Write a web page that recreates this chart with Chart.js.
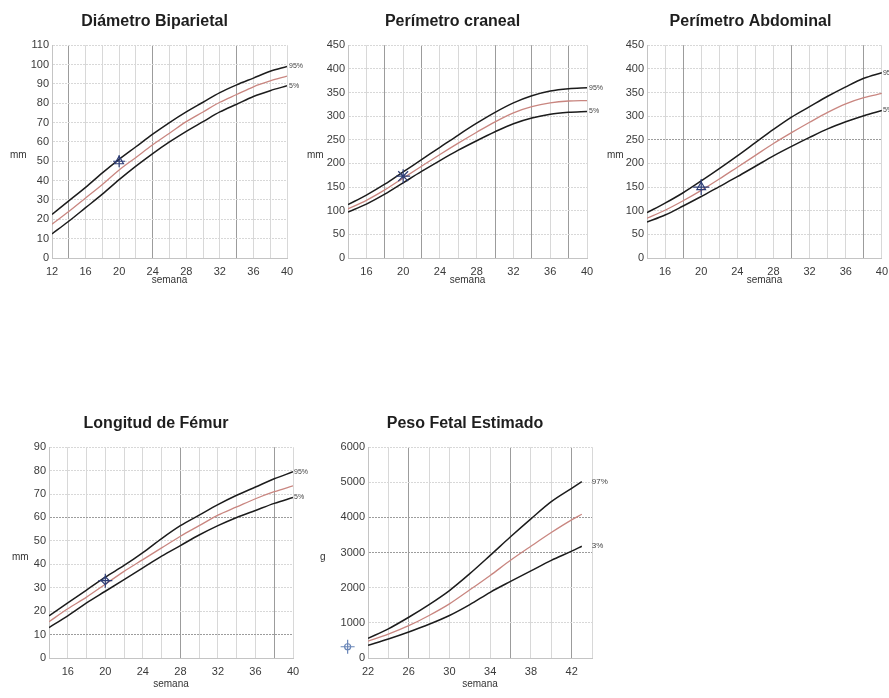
<!DOCTYPE html>
<html>
<head>
<meta charset="utf-8">
<script src="https://cdn.jsdelivr.net/npm/chart.js@4.4.1/dist/chart.umd.min.js"></script>
<style>
  html, body { margin: 0; padding: 0; background: #ffffff; }
  body { width: 889px; height: 698px; overflow: hidden; position: relative; }
  canvas { position: absolute; }
</style>
</head>
<body>
<canvas id="bpd"></canvas>
<canvas id="hc"></canvas>
<canvas id="ac"></canvas>
<canvas id="fl"></canvas>
<canvas id="efw"></canvas>
<script>
// ---- Diámetro Biparietal (mm) ----
const bpdWeeks = [12, 14, 16, 18, 20, 22, 24, 26, 28, 30, 32, 34, 36, 38, 40];
const bpdP95   = [22.5, 29.5, 36.5, 44, 51, 57.5, 64, 70, 75.5, 80.5, 85.5, 89.5, 93, 96.5, 99];
const bpdMean  = [17.5, 24, 31, 38, 45.5, 52, 58.5, 64.5, 70.5, 75.5, 80.5, 84.5, 88.5, 91.5, 94];
const bpdP5    = [12.5, 19, 26, 33, 40.5, 47.5, 54, 60, 65.5, 70.5, 75.5, 79.5, 83.5, 86.5, 89];
const bpdExamWeek  = [20];
const bpdExamValue = [50];
const bpdWeekLabels = [12, 16, 20, 24, 28, 32, 36, 40];

// ---- Perímetro craneal (mm) ----
const hcWeeks = [14, 16, 18, 20, 22, 24, 26, 28, 30, 32, 34, 36, 38, 40];
const hcP95   = [113, 133, 156, 182, 208, 234, 260, 285, 308, 328, 343, 353, 358, 360];
const hcMean  = [104, 122, 144, 169, 194, 219, 243, 266, 288, 307, 320, 328, 332, 333];
const hcP5    = [97, 114, 135, 159, 183, 206, 228, 248, 267, 284, 296, 304, 308, 310];
const hcExamWeek  = [20];
const hcExamValue = [173];
const hcWeekLabels = [16, 20, 24, 28, 32, 36, 40];

// ---- Perímetro Abdominal (mm) ----
const acWeeks = [14, 16, 18, 20, 22, 24, 26, 28, 30, 32, 34, 36, 38, 40];
const acP95   = [96, 116, 138, 163, 189, 216, 244, 272, 298, 320, 342, 362, 380, 392];
const acMean  = [84, 101, 121, 143, 167, 192, 217, 242, 265, 287, 308, 326, 339, 348];
const acP5    = [76, 91, 110, 130, 151, 172, 194, 216, 236, 255, 273, 288, 301, 312];
const acExamWeek  = [20];
const acExamValue = [150];
const acWeekLabels = [16, 20, 24, 28, 32, 36, 40];

// ---- Longitud de Fémur (mm) ----
const flWeeks = [14, 16, 18, 20, 22, 24, 26, 28, 30, 32, 34, 36, 38, 40];
const flP95   = [18, 23.5, 29, 34.5, 39.5, 45, 51, 56.5, 61, 65.5, 69.5, 73, 76.5, 79.5];
const flMean  = [15.5, 21, 26, 31.5, 37, 42, 47, 52, 56.5, 61, 64.5, 68, 71, 73.5];
const flP5    = [13, 18, 23.5, 28.5, 33.5, 38.5, 43.5, 48, 52.5, 56.5, 60, 63, 66, 68.5];
const flExamWeek  = [20];
const flExamValue = [33];
const flWeekLabels = [16, 20, 24, 28, 32, 36, 40];

// ---- Peso Fetal Estimado (g) ----
const efwWeeks = [22, 24, 26, 28, 30, 32, 34, 36, 38, 40, 42, 43];
const efwP97   = [560, 830, 1160, 1520, 1920, 2400, 2920, 3450, 3960, 4450, 4830, 5020];
const efwMean  = [480, 680, 920, 1210, 1540, 1940, 2350, 2780, 3180, 3570, 3930, 4090];
const efwP3    = [360, 540, 740, 960, 1210, 1520, 1870, 2180, 2480, 2780, 3040, 3180];
const efwExamWeek  = [20];
const efwExamValue = [320];
const efwWeekLabels = [22, 26, 30, 34, 38, 42];

const INK = '#1c1c1c';
const MEAN_RED = '#c98680';
const EXAM_NAVY = '#2e3d75';
const GRID_LIGHT = '#d8d8d8';
const GRID_DARK = '#9c9c9c';

Chart.defaults.font.family = '"Liberation Sans", Arial, Helvetica, sans-serif';
Chart.defaults.font.size = 11;
Chart.defaults.color = '#3a3a3a';

// Unit caption, percentile tags at the curve ends, and the exam measurement glyphs
// (the glyphs may sit left of the week range, so they are drawn outside the plot clip)
const sideText = {
  id: 'sideText',
  afterDatasetsDraw(chart, args, opts) {
    const { ctx, chartArea, scales } = chart;
    ctx.save();
    ctx.fillStyle = '#333';
    ctx.textBaseline = 'middle';
    ctx.textAlign = 'left';
    ctx.font = '10px "Liberation Sans", Arial, sans-serif';
    ctx.fillText(opts.unit, chartArea.left + opts.unitDx, (chartArea.top + chartArea.bottom) / 2 + opts.unitDy);
    ctx.font = opts.tagFont;
    ctx.fillStyle = '#444';
    opts.tags.forEach(t => {
      const pts = chart.getDatasetMeta(t.dataset).data;
      const p = pts[pts.length - 1];
      ctx.fillText(t.text, p.x + opts.tagDx, p.y);
    });
    ctx.strokeStyle = opts.examColor;
    ctx.fillStyle = 'rgba(0,0,0,0)';
    ctx.lineWidth = 1.2;
    opts.examWeek.forEach((w, i) => {
      const px = scales.x.getPixelForValue(w);
      const py = scales.y.getPixelForValue(opts.examValue[i]);
      opts.glyphs.forEach(g => {
        Chart.helpers.drawPoint(ctx, { pointStyle: g.style, radius: g.r, rotation: g.rot || 0, borderWidth: 1.2 }, px, py);
      });
    });
    ctx.restore();
  }
};

function pairs(xs, ys) { return xs.map((x, i) => ({ x, y: ys[i] })); }

function growthChart(id, c) {
  const el = document.getElementById(id);
  el.width = c.box.w; el.height = c.box.h;
  el.style.left = c.box.x + 'px'; el.style.top = c.box.y + 'px';

  const gridWeeks = [];
  for (let w = c.xMin; w <= c.xMax; w += 2) gridWeeks.push(w);

  const curve = (ys, color, width) => ({
    data: pairs(c.weeks, ys), borderColor: color, borderWidth: width,
    pointRadius: 0, fill: false, cubicInterpolationMode: 'monotone'
  });

  return new Chart(el, {
    type: 'line',
    data: { datasets: [curve(c.hi, INK, 1.5), curve(c.mid, MEAN_RED, 1.3), curve(c.lo, INK, 1.5)] },
    plugins: [sideText],
    options: {
      responsive: false, animation: false, events: [],
      layout: { padding: { left: c.padL, right: c.padR, top: 0, bottom: 0 } },
      plugins: {
        legend: { display: false }, tooltip: { enabled: false },
        title: {
          display: true, text: c.title, color: '#1e1e1e',
          font: { size: 16, weight: 'bold' }, padding: { top: 12, bottom: 14 }
        },
        sideText: {
          unit: c.unit, unitDx: c.unitDx, unitDy: c.unitDy,
          tags: c.tags, tagDx: c.tagDx, tagFont: c.tagFont,
          examWeek: c.examWeek, examValue: c.examValue, examColor: c.examColor, glyphs: c.glyphs
        }
      },
      scales: {
        x: {
          type: 'linear', min: c.xMin, max: c.xMax,
          afterBuildTicks: s => { s.ticks = gridWeeks.map(v => ({ value: v })); },
          afterFit: s => { s.height = c.xH; },
          ticks: {
            autoSkip: false, maxRotation: 0, padding: 7, color: '#3a3a3a',
            callback: v => (c.weekLabels.includes(v) ? String(v) : '')
          },
          grid: {
            drawTicks: false, lineWidth: 1,
            color: ctx => (c.darkX.includes(ctx.tick && ctx.tick.value) ? GRID_DARK : GRID_LIGHT)
          },
          border: { display: true, color: '#c4c4c4' },
          title: { display: true, text: 'semana', font: { size: 10 }, color: '#333', padding: { top: 0, bottom: c.semanaPad } }
        },
        y: {
          type: 'linear', min: c.yMin, max: c.yMax,
          afterFit: s => { s.width = 30; },
          ticks: { stepSize: c.yStep, padding: 3, color: '#3a3a3a', callback: v => String(v) },
          grid: {
            drawTicks: false, lineWidth: 1,
            color: ctx => (c.darkY.includes(ctx.tick && ctx.tick.value) ? GRID_DARK : GRID_LIGHT)
          },
          border: { display: true, color: '#c4c4c4', dash: [2, 1] }
        }
      }
    }
  });
}

growthChart('bpd', {
  box: { x: 0, y: 0, w: 308, h: 288 }, padL: 22, padR: 21, xH: 30, semanaPad: 2,
  title: 'Diámetro Biparietal', unit: 'mm', unitDx: -42, unitDy: 4,
  weeks: bpdWeeks, hi: bpdP95, mid: bpdMean, lo: bpdP5,
  examWeek: bpdExamWeek, examValue: bpdExamValue, examColor: EXAM_NAVY,
  glyphs: [{ style: 'triangle', r: 5 }, { style: 'cross', r: 6 }],
  xMin: 12, xMax: 40, weekLabels: bpdWeekLabels, darkX: [14, 24, 34],
  yMin: 0, yMax: 110, yStep: 10, darkY: [],
  tags: [{ dataset: 0, text: '95%' }, { dataset: 2, text: '5%' }], tagDx: 2, tagFont: '7px "Liberation Sans", Arial, sans-serif'
});

growthChart('hc', {
  box: { x: 300, y: 0, w: 312, h: 288 }, padL: 18, padR: 25, xH: 30, semanaPad: 2,
  title: 'Perímetro craneal', unit: 'mm', unitDx: -41, unitDy: 4,
  weeks: hcWeeks, hi: hcP95, mid: hcMean, lo: hcP5,
  examWeek: hcExamWeek, examValue: hcExamValue, examColor: EXAM_NAVY,
  glyphs: [{ style: 'star', r: 7 }],
  xMin: 14, xMax: 40, weekLabels: hcWeekLabels, darkX: [18, 22, 30, 34, 38],
  yMin: 0, yMax: 450, yStep: 50, darkY: [],
  tags: [{ dataset: 0, text: '95%' }, { dataset: 2, text: '5%' }], tagDx: 2, tagFont: '7px "Liberation Sans", Arial, sans-serif'
});

growthChart('ac', {
  box: { x: 605, y: 0, w: 290, h: 288 }, padL: 12, padR: 11, xH: 30, semanaPad: 2,
  title: 'Perímetro Abdominal', unit: 'mm', unitDx: -40, unitDy: 4,
  weeks: acWeeks, hi: acP95, mid: acMean, lo: acP5,
  examWeek: acExamWeek, examValue: acExamValue, examColor: EXAM_NAVY,
  glyphs: [{ style: 'triangle', r: 5 }, { style: 'cross', r: 8 }],
  xMin: 14, xMax: 40, weekLabels: acWeekLabels, darkX: [18, 30, 38],
  yMin: 0, yMax: 450, yStep: 50, darkY: [250],
  tags: [{ dataset: 0, text: '95%' }, { dataset: 2, text: '5%' }], tagDx: 1, tagFont: '7px "Liberation Sans", Arial, sans-serif'
});

growthChart('fl', {
  box: { x: 0, y: 402, w: 314, h: 288 }, padL: 19, padR: 21, xH: 32, semanaPad: 0,
  title: 'Longitud de Fémur', unit: 'mm', unitDx: -37, unitDy: 5,
  weeks: flWeeks, hi: flP95, mid: flMean, lo: flP5,
  examWeek: flExamWeek, examValue: flExamValue, examColor: EXAM_NAVY,
  glyphs: [{ style: 'rectRot', r: 4 }, { style: 'cross', r: 7 }],
  xMin: 14, xMax: 40, weekLabels: flWeekLabels, darkX: [28, 38],
  yMin: 0, yMax: 90, yStep: 10, darkY: [60, 10],
  tags: [{ dataset: 0, text: '95%' }, { dataset: 2, text: '5%' }], tagDx: 1, tagFont: '7px "Liberation Sans", Arial, sans-serif'
});

growthChart('efw', {
  box: { x: 300, y: 402, w: 316, h: 288 }, padL: 38, padR: 24, xH: 32, semanaPad: 0,
  title: 'Peso Fetal Estimado', unit: 'g', unitDx: -48, unitDy: 5,
  weeks: efwWeeks, hi: efwP97, mid: efwMean, lo: efwP3,
  examWeek: efwExamWeek, examValue: efwExamValue, examColor: '#6a86b8',
  glyphs: [{ style: 'cross', r: 7 }, { style: 'circle', r: 3 }],
  xMin: 22, xMax: 44, weekLabels: efwWeekLabels, darkX: [26, 36, 42],
  yMin: 0, yMax: 6000, yStep: 1000, darkY: [3000, 4000],
  tags: [{ dataset: 0, text: '97%' }, { dataset: 2, text: '3%' }], tagDx: 10, tagFont: '8px "Liberation Sans", Arial, sans-serif'
});
</script>
</body>
</html>
